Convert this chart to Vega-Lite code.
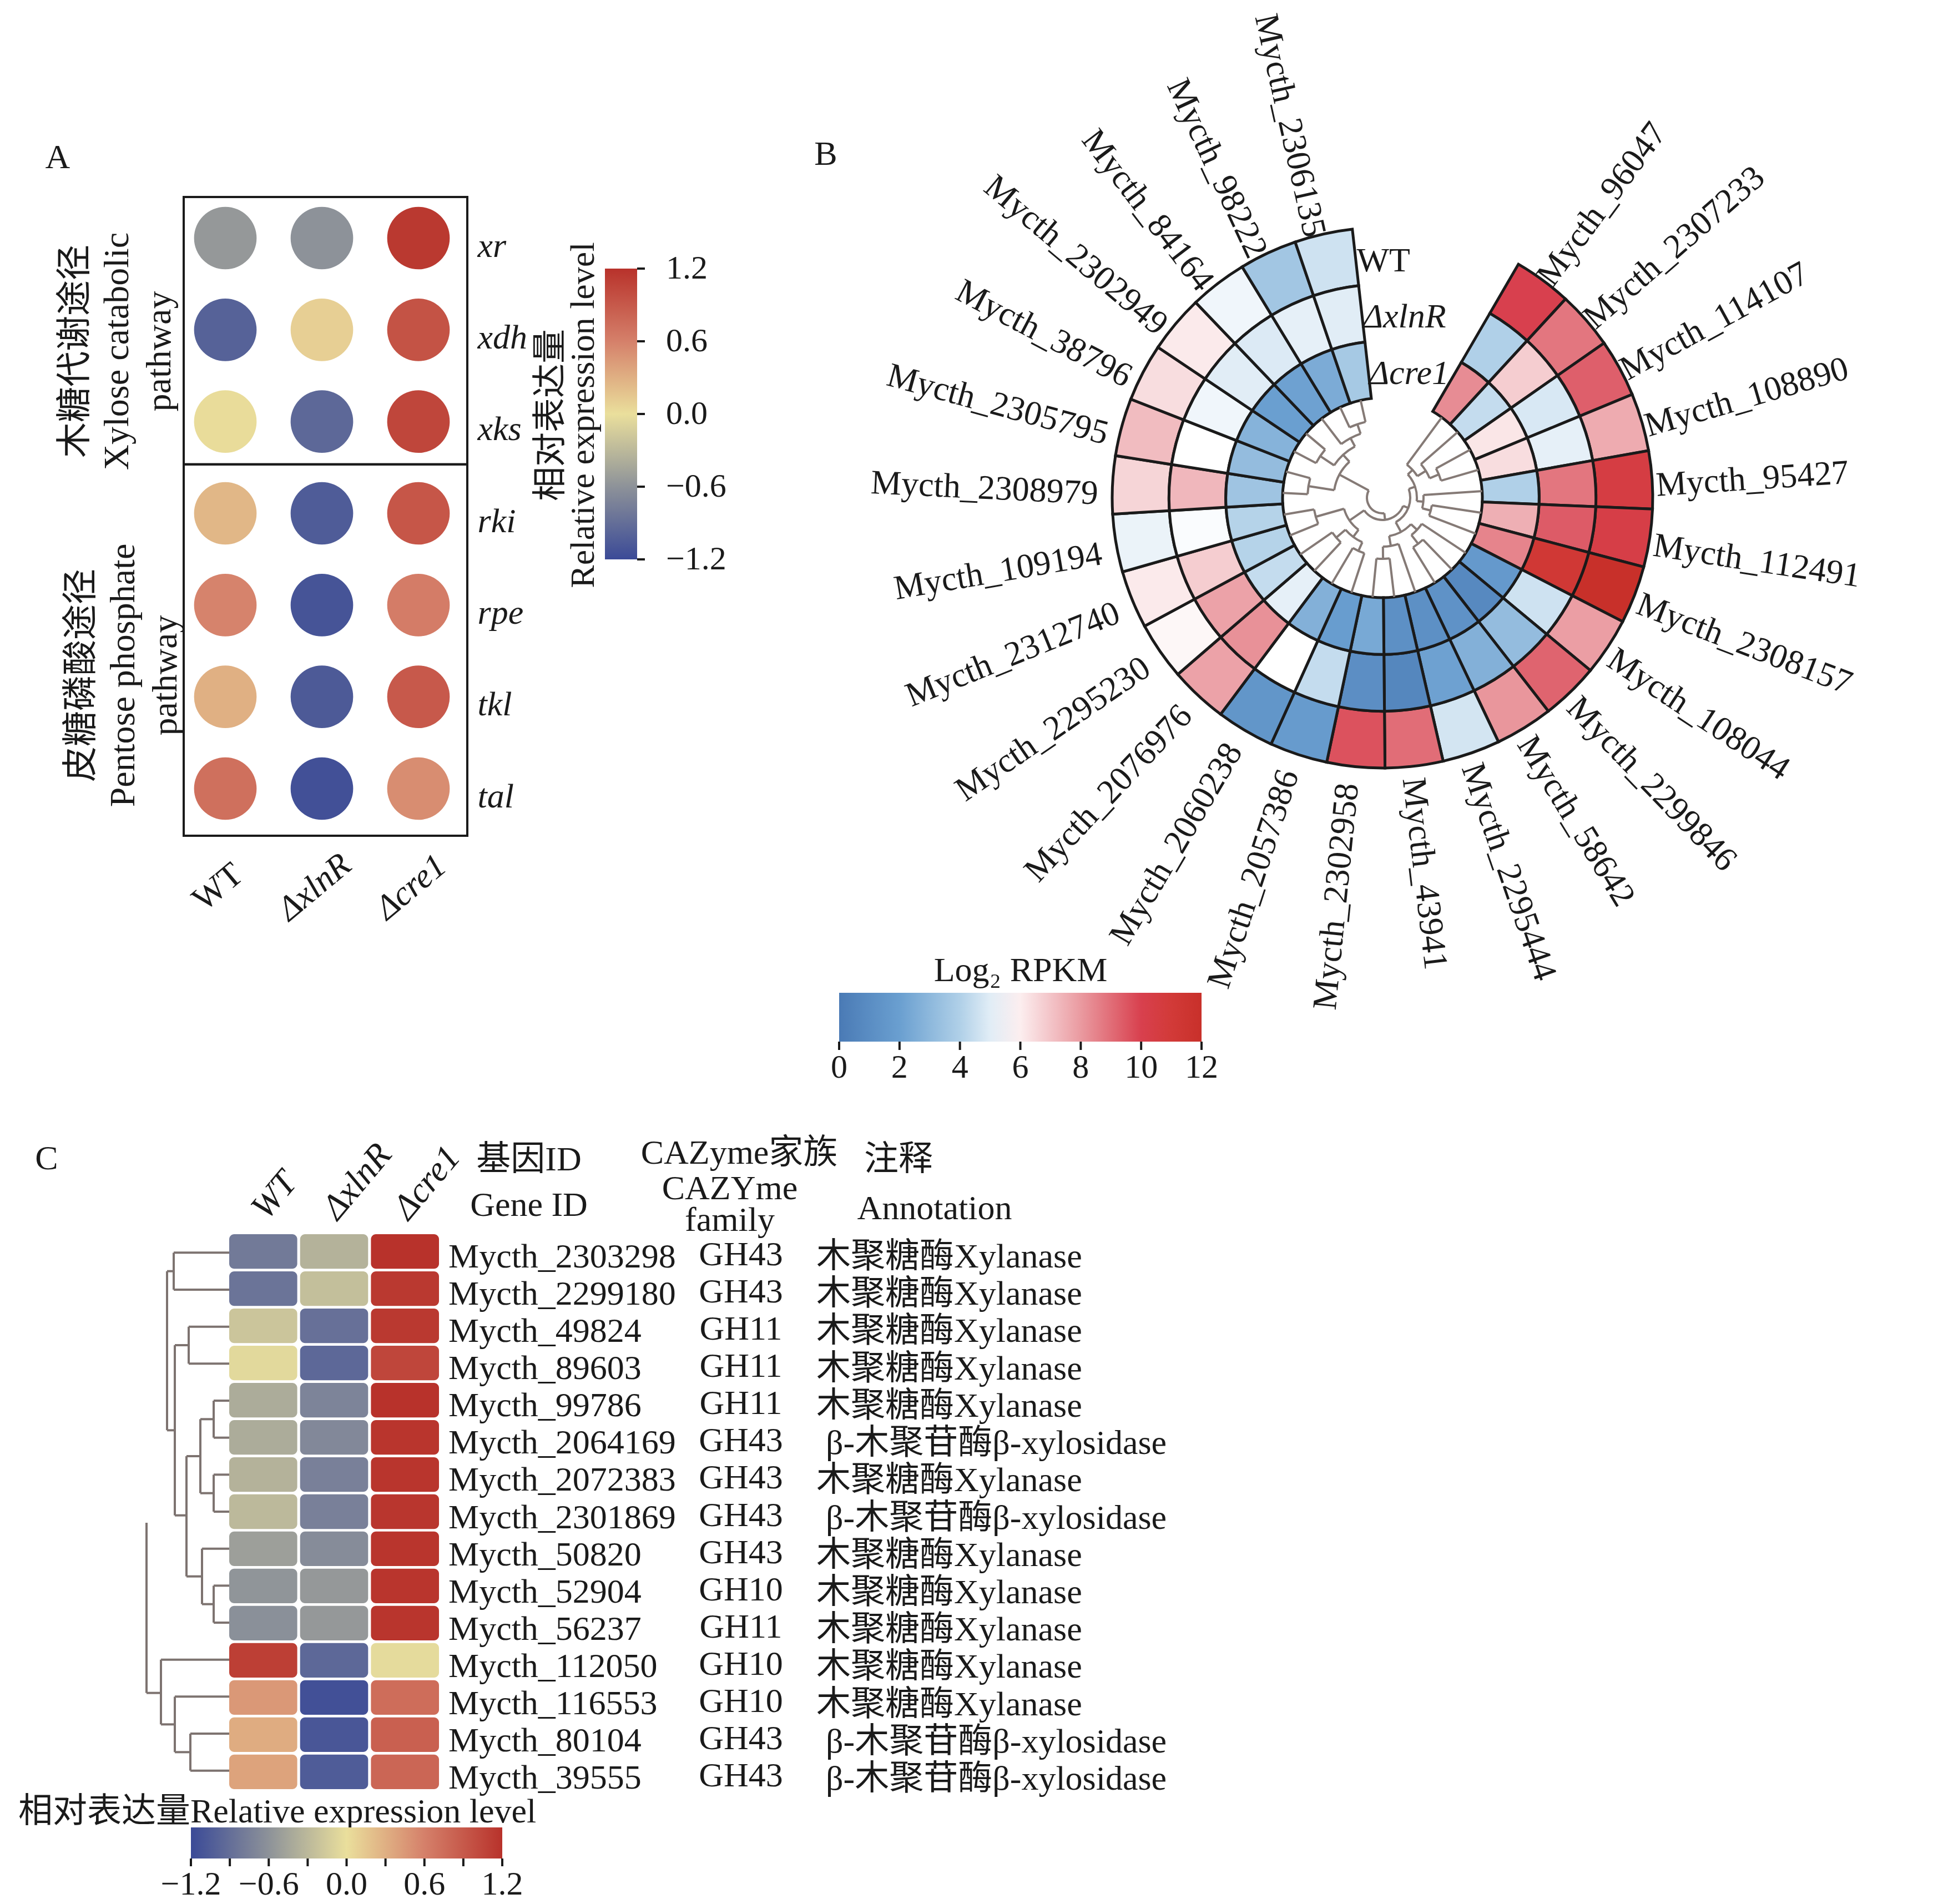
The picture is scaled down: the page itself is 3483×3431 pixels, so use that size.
{"$schema":"https://vega.github.io/schema/vega-lite/v6.json","padding":0,"background":"white","spacing":0,"resolve":{"scale":{"color":"independent"}},"config":{"font":"Liberation Serif, Noto Sans CJK SC","view":{"stroke":null},"concat":{"spacing":0},"text":{"color":"#1a1a1a"}},
"datasets":{
"a":[{"gene":"xr","strain":"WT","value":-0.55},{"gene":"xr","strain":"ΔxlnR","value":-0.6},{"gene":"xr","strain":"Δcre1","value":1.15},{"gene":"xdh","strain":"WT","value":-1.0},{"gene":"xdh","strain":"ΔxlnR","value":0.1},{"gene":"xdh","strain":"Δcre1","value":0.95},{"gene":"xks","strain":"WT","value":0.02},{"gene":"xks","strain":"ΔxlnR","value":-0.95},{"gene":"xks","strain":"Δcre1","value":1.05},{"gene":"rki","strain":"WT","value":0.25},{"gene":"rki","strain":"ΔxlnR","value":-1.05},{"gene":"rki","strain":"Δcre1","value":0.92},{"gene":"rpe","strain":"WT","value":0.58},{"gene":"rpe","strain":"ΔxlnR","value":-1.12},{"gene":"rpe","strain":"Δcre1","value":0.63},{"gene":"tkl","strain":"WT","value":0.3},{"gene":"tkl","strain":"ΔxlnR","value":-1.07},{"gene":"tkl","strain":"Δcre1","value":0.9},{"gene":"tal","strain":"WT","value":0.72},{"gene":"tal","strain":"ΔxlnR","value":-1.15},{"gene":"tal","strain":"Δcre1","value":0.52}],
"b":[
{"gene":"Mycth_96047","WT":10,"ΔxlnR":4,"Δcre1":8.3},{"gene":"Mycth_2307233","WT":8.8,"ΔxlnR":6.8,"Δcre1":4.4},{"gene":"Mycth_114107","WT":9.3,"ΔxlnR":4.8,"Δcre1":6.2},{"gene":"Mycth_108890","WT":7.6,"ΔxlnR":5.1,"Δcre1":6.4},{"gene":"Mycth_95427","WT":10.5,"ΔxlnR":8.8,"Δcre1":4},{"gene":"Mycth_112491","WT":10.3,"ΔxlnR":9.4,"Δcre1":7.5},{"gene":"Mycth_2308157","WT":12,"ΔxlnR":11.2,"Δcre1":8.5},{"gene":"Mycth_108044","WT":7.9,"ΔxlnR":4.6,"Δcre1":1.7},{"gene":"Mycth_2299846","WT":9.2,"ΔxlnR":3.2,"Δcre1":0.8},{"gene":"Mycth_58642","WT":8.1,"ΔxlnR":2.7,"Δcre1":1.3},{"gene":"Mycth_2295444","WT":4.7,"ΔxlnR":2.1,"Δcre1":1.2},{"gene":"Mycth_43941","WT":9,"ΔxlnR":0.7,"Δcre1":1.2},{"gene":"Mycth_2302958","WT":9.6,"ΔxlnR":1.1,"Δcre1":2.4},{"gene":"Mycth_2057386","WT":1.8,"ΔxlnR":4.4,"Δcre1":1.9},{"gene":"Mycth_2060238","WT":1.5,"ΔxlnR":5.6,"Δcre1":2.7},{"gene":"Mycth_2076976","WT":7.8,"ΔxlnR":8.2,"Δcre1":5.1},{"gene":"Mycth_2295230","WT":5.8,"ΔxlnR":7.8,"Δcre1":4.4},{"gene":"Mycth_2312740","WT":6.1,"ΔxlnR":6.8,"Δcre1":4.1},{"gene":"Mycth_109194","WT":5.2,"ΔxlnR":5.5,"Δcre1":4.1},{"gene":"Mycth_2308979","WT":6.6,"ΔxlnR":7.3,"Δcre1":3.5},{"gene":"Mycth_2305795","WT":7.2,"ΔxlnR":5.6,"Δcre1":3.2},{"gene":"Mycth_38796","WT":6.4,"ΔxlnR":5.3,"Δcre1":2.8},{"gene":"Mycth_2302949","WT":6.1,"ΔxlnR":5,"Δcre1":2},{"gene":"Mycth_84164","WT":5.3,"ΔxlnR":4.9,"Δcre1":2.1},{"gene":"Mycth_98222","WT":3.6,"ΔxlnR":5.1,"Δcre1":2.5},{"gene":"Mycth_2306135","WT":4.6,"ΔxlnR":5,"Δcre1":3.7}],
"btree":[{"a":2.5,"b":3.5,"r1":110,"r2":110},{"a":2.5,"b":2.5,"r1":110,"r2":180},{"a":3.5,"b":3.5,"r1":110,"r2":180},{"a":1.5,"b":3,"r1":92,"r2":92},{"a":1.5,"b":1.5,"r1":92,"r2":180},{"a":3,"b":3,"r1":92,"r2":110},{"a":0.5,"b":2.25,"r1":74,"r2":74},{"a":0.5,"b":0.5,"r1":74,"r2":180},{"a":2.25,"b":2.25,"r1":74,"r2":92},{"a":5.5,"b":6.5,"r1":90,"r2":90},{"a":5.5,"b":5.5,"r1":90,"r2":180},{"a":6.5,"b":6.5,"r1":90,"r2":180},{"a":4.5,"b":6,"r1":74,"r2":74},{"a":4.5,"b":4.5,"r1":74,"r2":180},{"a":6,"b":6,"r1":74,"r2":90},{"a":1.375,"b":5.25,"r1":62,"r2":62},{"a":1.375,"b":1.375,"r1":62,"r2":74},{"a":5.25,"b":5.25,"r1":62,"r2":74},{"a":8.5,"b":9.5,"r1":105,"r2":105},{"a":8.5,"b":8.5,"r1":105,"r2":180},{"a":9.5,"b":9.5,"r1":105,"r2":180},{"a":7.5,"b":9,"r1":85,"r2":85},{"a":7.5,"b":7.5,"r1":85,"r2":180},{"a":9,"b":9,"r1":85,"r2":105},{"a":11.5,"b":12.5,"r1":110,"r2":110},{"a":11.5,"b":11.5,"r1":110,"r2":180},{"a":12.5,"b":12.5,"r1":110,"r2":180},{"a":10.5,"b":12,"r1":88,"r2":88},{"a":10.5,"b":10.5,"r1":88,"r2":180},{"a":12,"b":12,"r1":88,"r2":110},{"a":8.25,"b":11.25,"r1":70,"r2":70},{"a":8.25,"b":8.25,"r1":70,"r2":85},{"a":11.25,"b":11.25,"r1":70,"r2":88},{"a":3.31,"b":9.75,"r1":50,"r2":50},{"a":3.31,"b":3.31,"r1":50,"r2":62},{"a":9.75,"b":9.75,"r1":50,"r2":70},{"a":13.5,"b":14.5,"r1":105,"r2":105},{"a":13.5,"b":13.5,"r1":105,"r2":180},{"a":14.5,"b":14.5,"r1":105,"r2":180},{"a":15.5,"b":16.5,"r1":110,"r2":110},{"a":15.5,"b":15.5,"r1":110,"r2":180},{"a":16.5,"b":16.5,"r1":110,"r2":180},{"a":14,"b":16,"r1":88,"r2":88},{"a":14,"b":14,"r1":88,"r2":105},{"a":16,"b":16,"r1":88,"r2":110},{"a":17.5,"b":18.5,"r1":125,"r2":125},{"a":17.5,"b":17.5,"r1":125,"r2":180},{"a":18.5,"b":18.5,"r1":125,"r2":180},{"a":15,"b":18,"r1":72,"r2":72},{"a":15,"b":15,"r1":72,"r2":88},{"a":18,"b":18,"r1":72,"r2":125},{"a":6.53,"b":16.5,"r1":40,"r2":40},{"a":6.53,"b":6.53,"r1":40,"r2":50},{"a":16.5,"b":16.5,"r1":40,"r2":72},{"a":19.5,"b":20.5,"r1":135,"r2":135},{"a":19.5,"b":19.5,"r1":135,"r2":180},{"a":20.5,"b":20.5,"r1":135,"r2":180},{"a":21.5,"b":22.5,"r1":135,"r2":135},{"a":21.5,"b":21.5,"r1":135,"r2":180},{"a":22.5,"b":22.5,"r1":135,"r2":180},{"a":24.5,"b":25.5,"r1":140,"r2":140},{"a":24.5,"b":24.5,"r1":140,"r2":180},{"a":25.5,"b":25.5,"r1":140,"r2":180},{"a":23.5,"b":25,"r1":122,"r2":122},{"a":23.5,"b":23.5,"r1":122,"r2":180},{"a":25,"b":25,"r1":122,"r2":140},{"a":22,"b":24.25,"r1":105,"r2":105},{"a":22,"b":22,"r1":105,"r2":135},{"a":24.25,"b":24.25,"r1":105,"r2":122},{"a":20,"b":23.1,"r1":88,"r2":88},{"a":20,"b":20,"r1":88,"r2":135},{"a":23.1,"b":23.1,"r1":88,"r2":105},{"a":11.5,"b":21.55,"r1":28,"r2":28},{"a":11.5,"b":11.5,"r1":28,"r2":40},{"a":21.55,"b":21.55,"r1":28,"r2":88}],
"c":[
{"gene":"Mycth_2303298","family":"GH43","annotation":"木聚糖酶Xylanase","WT":-0.8,"ΔxlnR":-0.35,"Δcre1":1.2},{"gene":"Mycth_2299180","family":"GH43","annotation":"木聚糖酶Xylanase","WT":-0.85,"ΔxlnR":-0.25,"Δcre1":1.15},{"gene":"Mycth_49824","family":"GH11","annotation":"木聚糖酶Xylanase","WT":-0.2,"ΔxlnR":-0.88,"Δcre1":1.15},{"gene":"Mycth_89603","family":"GH11","annotation":"木聚糖酶Xylanase","WT":-0.05,"ΔxlnR":-0.95,"Δcre1":1.05},{"gene":"Mycth_99786","family":"GH11","annotation":"木聚糖酶Xylanase","WT":-0.4,"ΔxlnR":-0.72,"Δcre1":1.2},{"gene":"Mycth_2064169","family":"GH43","annotation":"β-木聚苷酶β-xylosidase","WT":-0.4,"ΔxlnR":-0.68,"Δcre1":1.18},{"gene":"Mycth_2072383","family":"GH43","annotation":"木聚糖酶Xylanase","WT":-0.35,"ΔxlnR":-0.75,"Δcre1":1.18},{"gene":"Mycth_2301869","family":"GH43","annotation":"β-木聚苷酶β-xylosidase","WT":-0.3,"ΔxlnR":-0.75,"Δcre1":1.17},{"gene":"Mycth_50820","family":"GH43","annotation":"木聚糖酶Xylanase","WT":-0.5,"ΔxlnR":-0.65,"Δcre1":1.18},{"gene":"Mycth_52904","family":"GH10","annotation":"木聚糖酶Xylanase","WT":-0.58,"ΔxlnR":-0.55,"Δcre1":1.18},{"gene":"Mycth_56237","family":"GH11","annotation":"木聚糖酶Xylanase","WT":-0.62,"ΔxlnR":-0.55,"Δcre1":1.18},{"gene":"Mycth_112050","family":"GH10","annotation":"木聚糖酶Xylanase","WT":1.1,"ΔxlnR":-0.95,"Δcre1":-0.03},{"gene":"Mycth_116553","family":"GH10","annotation":"木聚糖酶Xylanase","WT":0.45,"ΔxlnR":-1.15,"Δcre1":0.75},{"gene":"Mycth_80104","family":"GH43","annotation":"β-木聚苷酶β-xylosidase","WT":0.32,"ΔxlnR":-1.1,"Δcre1":0.85},{"gene":"Mycth_39555","family":"GH43","annotation":"β-木聚苷酶β-xylosidase","WT":0.38,"ΔxlnR":-1.05,"Δcre1":0.8}],
"ctree":[{"h1":0,"h2":100,"p1":0.5,"p2":0.5},{"h1":0,"h2":100,"p1":1.5,"p2":1.5},{"h1":100,"h2":100,"p1":0.5,"p2":1.5},{"h1":0,"h2":73,"p1":2.5,"p2":2.5},{"h1":0,"h2":73,"p1":3.5,"p2":3.5},{"h1":73,"h2":73,"p1":2.5,"p2":3.5},{"h1":0,"h2":28,"p1":4.5,"p2":4.5},{"h1":0,"h2":28,"p1":5.5,"p2":5.5},{"h1":28,"h2":28,"p1":4.5,"p2":5.5},{"h1":0,"h2":28,"p1":6.5,"p2":6.5},{"h1":0,"h2":28,"p1":7.5,"p2":7.5},{"h1":28,"h2":28,"p1":6.5,"p2":7.5},{"h1":28,"h2":52,"p1":5,"p2":5},{"h1":28,"h2":52,"p1":7,"p2":7},{"h1":52,"h2":52,"p1":5,"p2":7},{"h1":0,"h2":28,"p1":9.5,"p2":9.5},{"h1":0,"h2":28,"p1":10.5,"p2":10.5},{"h1":28,"h2":28,"p1":9.5,"p2":10.5},{"h1":0,"h2":49,"p1":8.5,"p2":8.5},{"h1":28,"h2":49,"p1":10,"p2":10},{"h1":49,"h2":49,"p1":8.5,"p2":10},{"h1":52,"h2":77,"p1":6,"p2":6},{"h1":49,"h2":77,"p1":9.25,"p2":9.25},{"h1":77,"h2":77,"p1":6,"p2":9.25},{"h1":73,"h2":98,"p1":3,"p2":3},{"h1":77,"h2":98,"p1":7.6,"p2":7.6},{"h1":98,"h2":98,"p1":3,"p2":7.6},{"h1":100,"h2":112,"p1":1,"p2":1},{"h1":98,"h2":112,"p1":5.3,"p2":5.3},{"h1":112,"h2":112,"p1":1,"p2":5.3},{"h1":149,"h2":149,"p1":7.8,"p2":12.4},{"h1":0,"h2":123,"p1":11.5,"p2":11.5},{"h1":0,"h2":70,"p1":13.5,"p2":13.5},{"h1":0,"h2":70,"p1":14.5,"p2":14.5},{"h1":70,"h2":70,"p1":13.5,"p2":14.5},{"h1":0,"h2":98,"p1":12.5,"p2":12.5},{"h1":70,"h2":98,"p1":14,"p2":14},{"h1":98,"h2":98,"p1":12.5,"p2":14},{"h1":98,"h2":123,"p1":13.25,"p2":13.25},{"h1":123,"h2":123,"p1":11.5,"p2":13.25},{"h1":123,"h2":149,"p1":12.4,"p2":12.4}]
},
"vconcat":[
{"resolve":{"scale":{"color":"independent"}},"hconcat":[
{"width":1450,"height":2030,
"resolve":{"scale":{"x":"independent","y":"independent"},"axis":{"x":"independent","y":"independent"}},
"layer":[
{"data":{"values":[{"pathway":"Xylose catabolic pathway","colStart":0,"colEnd":3,"rowStart":0,"rowEnd":2.93},{"pathway":"Pentose phosphate pathway","colStart":0,"colEnd":3,"rowStart":2.93,"rowEnd":7}]},
"mark":{"type":"rect","filled":false,"stroke":"#1a1a1a","strokeWidth":4},
"encoding":{"x":{"field":"colStart","type":"quantitative","scale":{"domain":[0,3],"range":[331,842],"nice":false},"axis":null},"x2":{"field":"colEnd"},"y":{"field":"rowStart","type":"quantitative","scale":{"domain":[0,7],"range":[355,1506],"nice":false},"axis":null},"y2":{"field":"rowEnd"}}},
{"data":{"name":"a"},"mark":{"type":"circle","opacity":1,"size":12700},
"encoding":{
"x":{"field":"strain","type":"nominal","scale":{"type":"point","domain":["WT","ΔxlnR","Δcre1"],"range":[406,754],"padding":0},"axis":{"orient":"bottom","offset":-500,"title":null,"domain":false,"ticks":false,"grid":false,"labelAngle":-40,"labelAlign":"center","labelBaseline":"middle","labelPadding":68,"labelOffset":-14,"labelFontSize":62,"labelColor":"#1a1a1a","labelFontStyle":{"condition":{"test":"datum.value==='WT'","value":"normal"},"value":"italic"}}},
"y":{"field":"gene","type":"nominal","scale":{"type":"point","domain":["xr","xdh","xks","rki","rpe","tkl","tal"],"range":[429,1421],"padding":0},"axis":{"orient":"right","offset":-590,"title":null,"domain":false,"ticks":false,"grid":false,"labelPadding":0,"labelOffset":14,"labelFontSize":62,"labelFontStyle":"italic","labelColor":"#1a1a1a"}},
"color":{"field":"value","type":"quantitative","scale":{"interpolate":"rgb","domain":[-1.2,-0.6,0,0.6,1.2],"range":["#3b4a97","#8d9299","#eadf9c","#d5806a","#b8322b"]},"legend":{"orient":"none","direction":"vertical","legendX":1090,"legendY":484,"title":null,"gradientLength":524,"gradientThickness":58,"values":[-1.2,-0.6,0,0.6,1.2],"labelFontSize":60,"labelOffset":52,"labelColor":"#1a1a1a","labelOverlap":false,"labelExpr":"replace(format(datum.value,'.1f'),'-','−')","encoding":{"labels":{"baseline":{"value":"middle"}}}}}}},
{"data":{"values":[{"tick":-1.2},{"tick":-0.6},{"tick":0},{"tick":0.6},{"tick":1.2}]},"mark":{"type":"rule","stroke":"#1a1a1a","strokeWidth":4},"encoding":{"y":{"field":"tick","type":"quantitative","scale":{"domain":[-1.2,1.2],"range":[1008,484],"nice":false,"zero":false},"axis":null},"x":{"datum":0,"type":"quantitative","scale":{"domain":[0,1],"range":[1148,1162]},"axis":null},"x2":{"datum":1}}},
{"data":{"values":[{"label":"A"}]},"mark":{"type":"text","fontSize":62,"align":"center","baseline":"middle"},"encoding":{"text":{"field":"label"},"x":{"datum":"p","type":"nominal","scale":{"type":"point","domain":["p"],"range":[104,104]},"axis":null},"y":{"datum":"p","type":"nominal","scale":{"type":"point","domain":["p"],"range":[284,284]},"axis":null}}},
{"data":{"values":[{"label":"木糖代谢途径\nXylose catabolic\npathway"}]},"mark":{"type":"text","fontSize":64,"lineBreak":"\n","lineHeight":76,"angle":-90,"align":"center","baseline":"middle"},"encoding":{"text":{"field":"label"},"x":{"datum":"p","type":"nominal","scale":{"type":"point","domain":["p"],"range":[136,136]},"axis":null},"y":{"datum":"p","type":"nominal","scale":{"type":"point","domain":["p"],"range":[633,633]},"axis":null}}},
{"data":{"values":[{"label":"皮糖磷酸途径\nPentose phosphate\npathway"}]},"mark":{"type":"text","fontSize":64,"lineBreak":"\n","lineHeight":76,"angle":-90,"align":"center","baseline":"middle"},"encoding":{"text":{"field":"label"},"x":{"datum":"p","type":"nominal","scale":{"type":"point","domain":["p"],"range":[147,147]},"axis":null},"y":{"datum":"p","type":"nominal","scale":{"type":"point","domain":["p"],"range":[1217,1217]},"axis":null}}},
{"data":{"values":[{"label":"相对表达量\nRelative expression level"}]},"mark":{"type":"text","fontSize":62,"lineBreak":"\n","lineHeight":58,"angle":-90,"align":"center","baseline":"middle"},"encoding":{"text":{"field":"label"},"x":{"datum":"p","type":"nominal","scale":{"type":"point","domain":["p"],"range":[993,993]},"axis":null},"y":{"datum":"p","type":"nominal","scale":{"type":"point","domain":["p"],"range":[748,748]},"axis":null}}}
]},
{"width":2033,"height":2030,
"resolve":{"scale":{"x":"independent","y":"independent","theta":"independent","radius":"independent","angle":"independent"},"axis":{"x":"independent","y":"independent"}},
"layer":[
{"data":{"name":"b"},"transform":[{"fold":["WT","ΔxlnR","Δcre1"],"as":["strain","value"]}],
"mark":{"type":"arc","stroke":"#1a1a1a","strokeWidth":5},
"encoding":{
"x":{"datum":"c","type":"nominal","scale":{"type":"point","domain":["c"],"range":[1041,1041]},"axis":null},
"y":{"datum":"c","type":"nominal","scale":{"type":"point","domain":["c"],"range":[897,897]},"axis":null},
"theta":{"field":"gene","type":"nominal","scale":{"type":"band","domain":["Mycth_96047","Mycth_2307233","Mycth_114107","Mycth_108890","Mycth_95427","Mycth_112491","Mycth_2308157","Mycth_108044","Mycth_2299846","Mycth_58642","Mycth_2295444","Mycth_43941","Mycth_2302958","Mycth_2057386","Mycth_2060238","Mycth_2076976","Mycth_2295230","Mycth_2312740","Mycth_109194","Mycth_2308979","Mycth_2305795","Mycth_38796","Mycth_2302949","Mycth_84164","Mycth_98222","Mycth_2306135"],"range":[0.5271,6.1715],"paddingInner":0,"paddingOuter":0}},
"radius":{"field":"strain","type":"nominal","scale":{"type":"band","domain":["Δcre1","ΔxlnR","WT"],"range":[180,487],"paddingInner":0,"paddingOuter":0}},
"color":{"field":"value","type":"quantitative","scale":{"interpolate":"rgb","domain":[0,2,4,5.6,8,10,11,12],"range":["#4a7ab5","#6a9fd0","#b0d0e8","#ffffff","#ea9aa0","#d8404e","#d23a38","#c8302a"]},"legend":{"orient":"none","direction":"horizontal","legendX":62,"legendY":1719,"title":"Log₂ RPKM","titleLimit":900,"titleFontSize":62,"titleFontWeight":"normal","titleColor":"#1a1a1a","titleAnchor":"middle","titleAlign":"center","titlePadding":8,"gradientLength":653,"gradientThickness":88,"values":[0,2,4,6,8,10,12],"labelFontSize":60,"labelColor":"#1a1a1a","labelOffset":18,"labelOverlap":false,"encoding":{"labels":{"align":{"value":"center"}}}}}}},
{"data":{"values":[{"tick":0},{"tick":2},{"tick":4},{"tick":6},{"tick":8},{"tick":10},{"tick":12}]},"mark":{"type":"rule","stroke":"#1a1a1a","strokeWidth":4},"encoding":{"x":{"field":"tick","type":"quantitative","scale":{"domain":[0,12],"range":[62,715],"nice":false,"zero":false},"axis":null},"y":{"datum":0,"type":"quantitative","scale":{"domain":[0,1],"range":[1877,1892]},"axis":null},"y2":{"datum":1}}},
{"data":{"name":"btree"},"mark":{"type":"arc","filled":false,"stroke":"#857a76","strokeWidth":4},
"encoding":{
"x":{"datum":"c","type":"nominal","scale":{"type":"point","domain":["c"],"range":[1041,1041]},"axis":null},
"y":{"datum":"c","type":"nominal","scale":{"type":"point","domain":["c"],"range":[897,897]},"axis":null},
"theta":{"field":"a","type":"quantitative","stack":null,"scale":{"type":"linear","domain":[0,26],"range":[0.5271,6.1715],"nice":false,"zero":false}},
"theta2":{"field":"b"},
"radius":{"field":"r2","type":"quantitative","scale":{"type":"linear","domain":[0,180],"range":[0,180],"nice":false}},
"radius2":{"field":"r1"}}},
{"data":{"name":"b"},"transform":[{"filter":{"field":"gene","oneOf":["Mycth_96047","Mycth_2307233","Mycth_114107","Mycth_108890","Mycth_95427","Mycth_112491","Mycth_2308157","Mycth_108044","Mycth_2299846","Mycth_58642","Mycth_2295444","Mycth_43941"]}}],
"mark":{"type":"text","fontSize":62,"align":"left","baseline":"middle"},
"encoding":{"text":{"field":"gene"},
"x":{"datum":"c","type":"nominal","scale":{"type":"point","domain":["c"],"range":[1038,1038]},"axis":null},
"y":{"datum":"c","type":"nominal","scale":{"type":"point","domain":["c"],"range":[908,908]},"axis":null},
"radius":{"datum":"l","type":"nominal","scale":{"type":"point","domain":["l"],"range":[497,497]}},
"theta":{"field":"gene","type":"nominal","scale":{"type":"point","padding":0,"domain":["Mycth_96047","Mycth_2307233","Mycth_114107","Mycth_108890","Mycth_95427","Mycth_112491","Mycth_2308157","Mycth_108044","Mycth_2299846","Mycth_58642","Mycth_2295444","Mycth_43941"],"range":[0.6356,3.024]}},
"angle":{"field":"gene","type":"nominal","scale":{"type":"point","padding":0,"domain":["Mycth_96047","Mycth_2307233","Mycth_114107","Mycth_108890","Mycth_95427","Mycth_112491","Mycth_2308157","Mycth_108044","Mycth_2299846","Mycth_58642","Mycth_2295444","Mycth_43941"],"range":[-53.6,83.3]},"legend":null}}},
{"data":{"name":"b"},"transform":[{"filter":{"field":"gene","oneOf":["Mycth_2302958","Mycth_2057386","Mycth_2060238","Mycth_2076976","Mycth_2295230","Mycth_2312740","Mycth_109194","Mycth_2308979","Mycth_2305795","Mycth_38796","Mycth_2302949","Mycth_84164","Mycth_98222","Mycth_2306135"]}}],
"mark":{"type":"text","fontSize":62,"align":"right","baseline":"middle"},
"encoding":{"text":{"field":"gene"},
"x":{"datum":"c","type":"nominal","scale":{"type":"point","domain":["c"],"range":[1028,1028]},"axis":null},
"y":{"datum":"c","type":"nominal","scale":{"type":"point","domain":["c"],"range":[914,914]},"axis":null},
"radius":{"datum":"l","type":"nominal","scale":{"type":"point","domain":["l"],"range":[500,500]}},
"theta":{"field":"gene","type":"nominal","scale":{"type":"point","padding":0,"domain":["Mycth_2302958","Mycth_2057386","Mycth_2060238","Mycth_2076976","Mycth_2295230","Mycth_2312740","Mycth_109194","Mycth_2308979","Mycth_2305795","Mycth_38796","Mycth_2302949","Mycth_84164","Mycth_98222","Mycth_2306135"],"range":[3.241,6.0636]}},
"angle":{"field":"gene","type":"nominal","scale":{"type":"point","padding":0,"domain":["Mycth_2302958","Mycth_2057386","Mycth_2060238","Mycth_2076976","Mycth_2295230","Mycth_2312740","Mycth_109194","Mycth_2308979","Mycth_2305795","Mycth_38796","Mycth_2302949","Mycth_84164","Mycth_98222","Mycth_2306135"],"range":[-84.3,77.4]},"legend":null}}},
{"data":{"values":[{"strain":"WT"},{"strain":"ΔxlnR"},{"strain":"Δcre1"}]},
"mark":{"type":"text","fontSize":62,"align":"left","baseline":"middle","dx":0,"fontStyle":{"expr":"datum.strain==='WT'?'normal':'italic'"}},
"encoding":{"text":{"field":"strain"},
"x":{"datum":"c","type":"nominal","scale":{"type":"point","domain":["c"],"range":[1041,1041]},"axis":null},
"y":{"datum":"c","type":"nominal","scale":{"type":"point","domain":["c"],"range":[897,897]},"axis":null},
"radius":{"field":"strain","type":"nominal","scale":{"type":"point","padding":0,"domain":["Δcre1","ΔxlnR","WT"],"range":[225,430]}},
"theta":{"datum":"e","type":"nominal","scale":{"type":"point","domain":["e"],"range":[6.175,6.175]}}}},
{"data":{"values":[{"label":"B"}]},"mark":{"type":"text","fontSize":62,"align":"center","baseline":"middle"},"encoding":{"text":{"field":"label"},"x":{"datum":"p","type":"nominal","scale":{"type":"point","domain":["p"],"range":[38,38]},"axis":null},"y":{"datum":"p","type":"nominal","scale":{"type":"point","domain":["p"],"range":[278,278]},"axis":null}}}
]}
]},
{"width":3483,"height":1401,
"resolve":{"scale":{"x":"independent","y":"independent"},"axis":{"x":"independent","y":"independent"}},
"layer":[
{"data":{"name":"ctree"},"mark":{"type":"rule","stroke":"#7d7370","strokeWidth":4},
"encoding":{"x":{"field":"h1","type":"quantitative","scale":{"domain":[0,160],"range":[413,253],"nice":false},"axis":null},"x2":{"field":"h2"},"y":{"field":"p1","type":"quantitative","scale":{"domain":[0,15],"range":[194,1194],"nice":false},"axis":null},"y2":{"field":"p2"}}},
{"data":{"name":"c"},"transform":[{"fold":["WT","ΔxlnR","Δcre1"],"as":["strain","value"]}],
"mark":{"type":"rect","cornerRadius":9},
"encoding":{
"x":{"field":"strain","type":"nominal","scale":{"type":"band","domain":["WT","ΔxlnR","Δcre1"],"range":[413,791],"paddingInner":0.04,"paddingOuter":0},"axis":{"orient":"top","offset":-186,"title":null,"domain":false,"ticks":false,"grid":false,"labelAngle":-50,"labelAlign":"left","labelBaseline":"middle","labelPadding":28,"labelOffset":-8,"labelFontSize":64,"labelFontStyle":"italic","labelColor":"#1a1a1a"}},
"y":{"field":"gene","type":"nominal","sort":null,"scale":{"type":"band","domain":["Mycth_2303298","Mycth_2299180","Mycth_49824","Mycth_89603","Mycth_99786","Mycth_2064169","Mycth_2072383","Mycth_2301869","Mycth_50820","Mycth_52904","Mycth_56237","Mycth_112050","Mycth_116553","Mycth_80104","Mycth_39555"],"range":[194,1194],"paddingInner":0.07,"paddingOuter":0},"axis":null},
"color":{"field":"value","type":"quantitative","scale":{"interpolate":"rgb","domain":[-1.2,-0.6,0,0.6,1.2],"range":["#3b4a97","#8d9299","#eadf9c","#d5806a","#b8322b"]},"legend":{"orient":"none","direction":"horizontal","legendX":344,"legendY":1263,"title":null,"gradientLength":561,"gradientThickness":56,"values":[-1.2,-0.6,0,0.6,1.2],"labelFontSize":60,"labelColor":"#1a1a1a","labelOffset":18,"labelOverlap":false,"labelExpr":"replace(format(datum.value,'.1f'),'-','−')","encoding":{"labels":{"align":{"value":"center"}}}}}}},
{"data":{"values":[{"tick":-1.2},{"tick":-0.9},{"tick":-0.6},{"tick":-0.3},{"tick":0},{"tick":0.3},{"tick":0.6},{"tick":0.9},{"tick":1.2}]},"mark":{"type":"rule","stroke":"#1a1a1a","strokeWidth":4},"encoding":{"x":{"field":"tick","type":"quantitative","scale":{"domain":[-1.2,1.2],"range":[344,905],"nice":false,"zero":false},"axis":null},"y":{"datum":0,"type":"quantitative","scale":{"domain":[0,1],"range":[1319,1333]},"axis":null},"y2":{"datum":1}}},
{"data":{"name":"c"},"mark":{"type":"text","fontSize":62,"align":"left","baseline":"middle"},"encoding":{"text":{"field":"gene"},"x":{"datum":"p","type":"nominal","scale":{"type":"point","domain":["p"],"range":[808,808]},"axis":null},"y":{"field":"gene","type":"nominal","scale":{"type":"point","padding":0,"domain":["Mycth_2303298","Mycth_2299180","Mycth_49824","Mycth_89603","Mycth_99786","Mycth_2064169","Mycth_2072383","Mycth_2301869","Mycth_50820","Mycth_52904","Mycth_56237","Mycth_112050","Mycth_116553","Mycth_80104","Mycth_39555"],"range":[235,1174]},"axis":null}}},
{"data":{"name":"c"},"mark":{"type":"text","fontSize":62,"align":"center","baseline":"middle"},"encoding":{"text":{"field":"family"},"x":{"datum":"p","type":"nominal","scale":{"type":"point","domain":["p"],"range":[1335,1335]},"axis":null},"y":{"field":"gene","type":"nominal","scale":{"type":"point","padding":0,"domain":["Mycth_2303298","Mycth_2299180","Mycth_49824","Mycth_89603","Mycth_99786","Mycth_2064169","Mycth_2072383","Mycth_2301869","Mycth_50820","Mycth_52904","Mycth_56237","Mycth_112050","Mycth_116553","Mycth_80104","Mycth_39555"],"range":[231,1170]},"axis":null}}},
{"data":{"name":"c"},"transform":[{"filter":"indexof(datum.annotation,'Xylanase')>=0"}],"mark":{"type":"text","fontSize":62,"align":"left","baseline":"middle"},"encoding":{"text":{"field":"annotation"},"x":{"datum":"p","type":"nominal","scale":{"type":"point","domain":["p"],"range":[1471,1471]},"axis":null},"y":{"field":"gene","type":"nominal","scale":{"type":"point","padding":0,"domain":["Mycth_2303298","Mycth_2299180","Mycth_49824","Mycth_89603","Mycth_99786","Mycth_2064169","Mycth_2072383","Mycth_2301869","Mycth_50820","Mycth_52904","Mycth_56237","Mycth_112050","Mycth_116553","Mycth_80104","Mycth_39555"],"range":[235,1176]},"axis":null}}},
{"data":{"name":"c"},"transform":[{"filter":"indexof(datum.annotation,'Xylanase')<0"}],"mark":{"type":"text","fontSize":62,"align":"left","baseline":"middle"},"encoding":{"text":{"field":"annotation"},"x":{"datum":"p","type":"nominal","scale":{"type":"point","domain":["p"],"range":[1488,1488]},"axis":null},"y":{"field":"gene","type":"nominal","scale":{"type":"point","padding":0,"domain":["Mycth_2303298","Mycth_2299180","Mycth_49824","Mycth_89603","Mycth_99786","Mycth_2064169","Mycth_2072383","Mycth_2301869","Mycth_50820","Mycth_52904","Mycth_56237","Mycth_112050","Mycth_116553","Mycth_80104","Mycth_39555"],"range":[235,1176]},"axis":null}}},
{"data":{"values":[{"label":"C"}]},"mark":{"type":"text","fontSize":62,"align":"center","baseline":"middle"},"encoding":{"text":{"field":"label"},"x":{"datum":"p","type":"nominal","scale":{"type":"point","domain":["p"],"range":[84,84]},"axis":null},"y":{"datum":"p","type":"nominal","scale":{"type":"point","domain":["p"],"range":[58,58]},"axis":null}}},
{"data":{"values":[{"label":"基因ID"},{"label":"Gene ID"}]},"mark":{"type":"text","fontSize":62,"align":"center","baseline":"middle"},"encoding":{"text":{"field":"label"},"x":{"datum":"p","type":"nominal","scale":{"type":"point","domain":["p"],"range":[953,953]},"axis":null},"y":{"field":"label","type":"nominal","scale":{"type":"point","padding":0,"domain":["基因ID","Gene ID"],"range":[60,142]},"axis":null}}},
{"data":{"values":[{"label":"CAZyme家族"}]},"mark":{"type":"text","fontSize":62,"align":"center","baseline":"middle"},"encoding":{"text":{"field":"label"},"x":{"datum":"p","type":"nominal","scale":{"type":"point","domain":["p"],"range":[1332,1332]},"axis":null},"y":{"datum":"p","type":"nominal","scale":{"type":"point","domain":["p"],"range":[48,48]},"axis":null}}},
{"data":{"values":[{"label":"CAZYme\nfamily"}]},"mark":{"type":"text","fontSize":62,"align":"center","baseline":"middle","lineBreak":"\n","lineHeight":57},"encoding":{"text":{"field":"label"},"x":{"datum":"p","type":"nominal","scale":{"type":"point","domain":["p"],"range":[1315,1315]},"axis":null},"y":{"datum":"p","type":"nominal","scale":{"type":"point","domain":["p"],"range":[112,112]},"axis":null}}},
{"data":{"values":[{"label":"注释"}]},"mark":{"type":"text","fontSize":62,"align":"center","baseline":"middle"},"encoding":{"text":{"field":"label"},"x":{"datum":"p","type":"nominal","scale":{"type":"point","domain":["p"],"range":[1619,1619]},"axis":null},"y":{"datum":"p","type":"nominal","scale":{"type":"point","domain":["p"],"range":[60,60]},"axis":null}}},
{"data":{"values":[{"label":"Annotation"}]},"mark":{"type":"text","fontSize":62,"align":"center","baseline":"middle"},"encoding":{"text":{"field":"label"},"x":{"datum":"p","type":"nominal","scale":{"type":"point","domain":["p"],"range":[1684,1684]},"axis":null},"y":{"datum":"p","type":"nominal","scale":{"type":"point","domain":["p"],"range":[148,148]},"axis":null}}},
{"data":{"values":[{"label":"相对表达量Relative expression level"}]},"mark":{"type":"text","fontSize":62,"align":"left","baseline":"middle"},"encoding":{"text":{"field":"label"},"x":{"datum":"p","type":"nominal","scale":{"type":"point","domain":["p"],"range":[33,33]},"axis":null},"y":{"datum":"p","type":"nominal","scale":{"type":"point","domain":["p"],"range":[1235,1235]},"axis":null}}}
]}
]}
